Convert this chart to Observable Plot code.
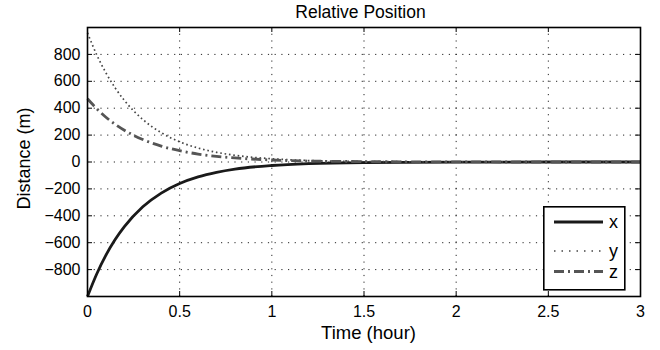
<!DOCTYPE html>
<html>
<head>
<meta charset="utf-8">
<script src="https://cdn.jsdelivr.net/npm/d3@7"></script>
<script src="https://cdn.jsdelivr.net/npm/@observablehq/plot@0.6"></script>
<style>
  body { margin: 0; background: #fff; }
  #wrap { position: relative; width: 660px; height: 350px; font-family: "Liberation Sans", Arial, sans-serif; }
  #legend { position: absolute; left: 543px; top: 206px; }
</style>
</head>
<body>
<div id="wrap"></div>
<script>
const title = "Relative Position";
const xLabel = "Time (hour)";
const yLabel = "Distance (m)";
const time = [0, 0.05, 0.1, 0.15, 0.2, 0.3, 0.4, 0.5, 0.6, 0.7, 0.8, 1.0, 1.2, 1.5, 2, 2.5, 3];
const xVals = [-1000, -833, -693, -577, -481, -333, -231, -160, -111, -77, -53, -26, -12, -4, -1, 0, 0];
const yVals = [960, 797, 663, 551, 458, 316, 218, 150, 104, 72, 50, 24, 11, 4, 1, 0, 0];
const zVals = [470, 396, 333, 280, 236, 167, 118, 84, 59, 42, 30, 15, 7, 3, 0.5, 0, 0];
const xTicks = [0, 0.5, 1, 1.5, 2, 2.5, 3];
const yTicks = [-800, -600, -400, -200, 0, 200, 400, 600, 800];
const seriesNames = ["x", "y", "z"];

const styles = {
  x: {stroke: "#1a1a1a", strokeWidth: 2.8, strokeDasharray: null},
  y: {stroke: "#444", strokeWidth: 1.7, strokeDasharray: "1.6,2.8"},
  z: {stroke: "#555", strokeWidth: 2.8, strokeDasharray: "10,4,2,4"}
};
const seriesData = {x: xVals, y: yVals, z: zVals};
const lines = seriesNames.map(n => Plot.line(time.map((t, i) => ({t, v: seriesData[n][i]})), {
  x: "t", y: "v", curve: "monotone-x", ...styles[n], strokeLinecap: "butt"
}));

const plotH = 296 - 27;
const plotW = 640 - 87;
const chart = Plot.plot({
  width: 660,
  height: 350,
  marginLeft: 87,
  marginRight: 20,
  marginTop: 27,
  marginBottom: 54,
  style: {fontFamily: "Liberation Sans, Arial, sans-serif", fontSize: "16px", color: "#000", background: "#fff"},
  x: {domain: [0, 3]},
  y: {domain: [-1000, 1000]},
  marks: [
    Plot.gridX(xTicks, {stroke: "#000", strokeOpacity: 0.85, strokeDasharray: "1.2,5.5"}),
    Plot.gridY(yTicks, {stroke: "#000", strokeOpacity: 0.85, strokeDasharray: "1.2,5.5"}),
    Plot.tickX(xTicks, {x: d => d, insetTop: plotH - 5, stroke: "#000"}),
    Plot.tickX(xTicks, {x: d => d, insetBottom: plotH - 5, stroke: "#000"}),
    Plot.tickY(yTicks, {y: d => d, insetLeft: plotW - 5, stroke: "#000"}),
    Plot.tickY(yTicks, {y: d => d, insetRight: plotW - 5, stroke: "#000"}),
    ...lines,
    Plot.axisX(xTicks, {tickSize: 0, tickPadding: 9.5, label: null, fontSize: 16, tickFormat: d => String(d)}),
    Plot.axisY(yTicks, {tickSize: 0, tickPadding: 7, label: null, fontSize: 16, tickFormat: d => d < 0 ? "\u2212" + Math.abs(d) : String(d)}),
    Plot.frame({stroke: "#000", strokeWidth: 1.6}),
    Plot.text([title], {frameAnchor: "top", lineAnchor: "middle", textAnchor: "middle", dx: -3.5, dy: -15.2, fontSize: 17.5, text: d => d}),
    Plot.text([xLabel], {frameAnchor: "bottom", lineAnchor: "middle", textAnchor: "middle", dx: 4.5, dy: 36.7, fontSize: 18.5, text: d => d}),
    Plot.text([yLabel], {frameAnchor: "left", lineAnchor: "middle", textAnchor: "middle", dx: -63.7, dy: -3.5, rotate: -90, fontSize: 18, text: d => d})
  ]
});
const wrap = document.getElementById("wrap");
wrap.appendChild(chart);

// legend
const legendRows = [16, 45, 65.5];
const ns = "http://www.w3.org/2000/svg";
const lg = document.createElementNS(ns, "svg");
lg.setAttribute("id", "legend");
lg.setAttribute("width", 83);
lg.setAttribute("height", 85);
const box = document.createElementNS(ns, "rect");
box.setAttribute("x", 0.8); box.setAttribute("y", 0.8);
box.setAttribute("width", 81); box.setAttribute("height", 83);
box.setAttribute("fill", "#fff"); box.setAttribute("stroke", "#000"); box.setAttribute("stroke-width", 1.6);
lg.appendChild(box);
seriesNames.forEach((n, i) => {
  const yy = legendRows[i];
  const ln = document.createElementNS(ns, "line");
  ln.setAttribute("x1", 11); ln.setAttribute("x2", 60);
  ln.setAttribute("y1", yy); ln.setAttribute("y2", yy);
  ln.setAttribute("stroke", styles[n].stroke);
  ln.setAttribute("stroke-width", styles[n].strokeWidth);
  if (styles[n].strokeDasharray) ln.setAttribute("stroke-dasharray", n === "y" ? "1.5,6" : styles[n].strokeDasharray);
  lg.appendChild(ln);
  const tx = document.createElementNS(ns, "text");
  tx.setAttribute("x", 66); tx.setAttribute("y", yy);
  tx.setAttribute("dy", "0.35em");
  tx.setAttribute("font-size", 18);
  tx.setAttribute("font-family", "Liberation Sans, Arial, sans-serif");
  tx.textContent = n;
  lg.appendChild(tx);
});
wrap.appendChild(lg);
</script>
</body>
</html>
